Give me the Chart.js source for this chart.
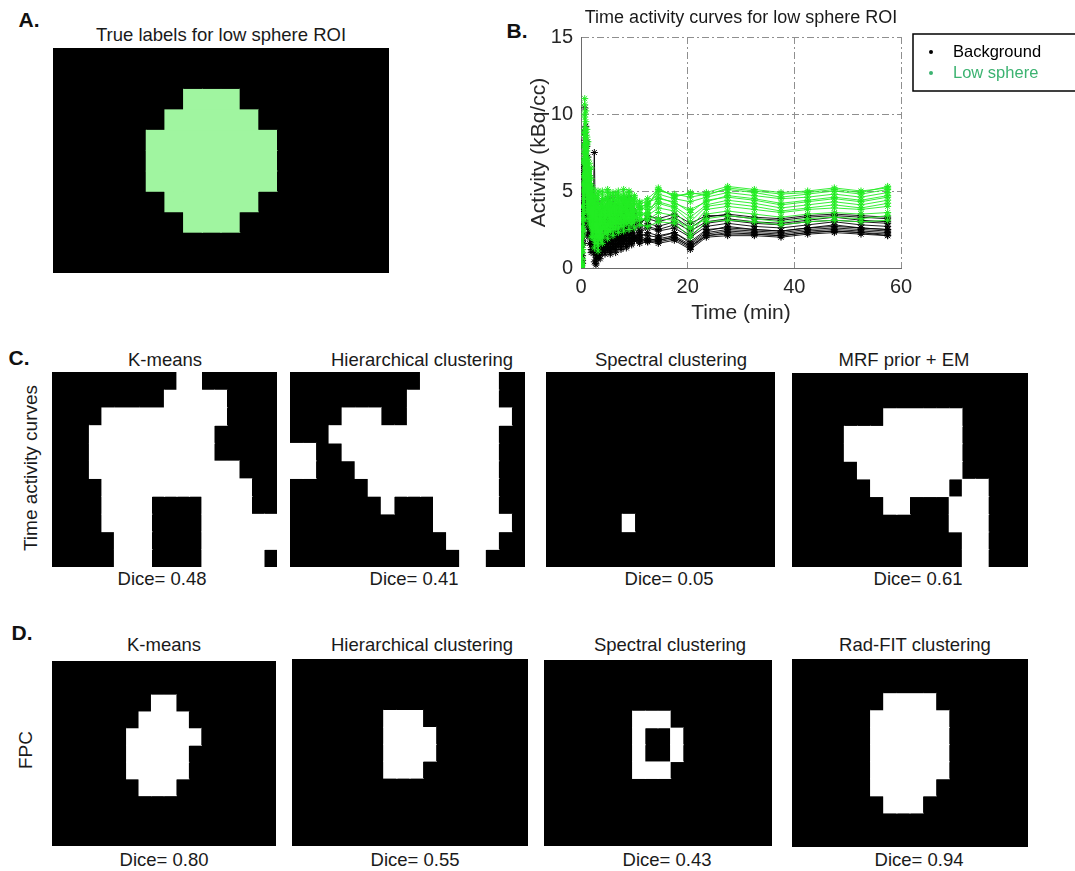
<!DOCTYPE html>
<html>
<head>
<meta charset="utf-8">
<script src="https://cdn.jsdelivr.net/npm/chart.js@4.4.1/dist/chart.umd.min.js"></script>
<style>
  body { margin: 0; width: 1075px; height: 871px; background: #fff; position: relative; overflow: hidden;
         font-family: "Liberation Sans", Arial, sans-serif; color: #1a1a1a; }
  .t { position: absolute; white-space: nowrap; transform: translate(-50%, -50%); font-size: 18.5px; line-height: 1; }
  .lab { position: absolute; white-space: nowrap; transform: translate(-50%, -50%); font-size: 21px; font-weight: bold; line-height: 1; color: #111; }
  .rot { position: absolute; white-space: nowrap; transform: translate(-50%, -50%) rotate(-90deg); font-size: 19px; line-height: 1; }
  .img { position: absolute; background: #000; }
  .img canvas, #tac { display: block; }
</style>
</head>
<body>

<script>
// ---- panel B: frame mid-times (min) and time activity curves (kBq/cc) ----
const TIME_MIN = [0.1, 0.3, 0.5, 0.7, 0.9, 1.1, 1.3, 1.6, 1.9, 2.2, 2.5, 2.8, 3.2, 3.6, 4.0, 4.5, 5.0, 5.5, 6.0, 6.5,
                  7.0, 7.5, 8.0, 8.5, 9.0, 9.5, 10.0, 11.0, 12.5, 14.5, 17.5, 20.5, 23.5, 27.5, 32.5, 37.5, 42.5, 47.5, 52.5, 57.5];

const BG_1 = [0.2, 2.5, 6.2, 10.4, 7.1, 4.0, 6.3, 3.1, 5.2, 2.0, 4.1, 1.4, 3.3, 1.2, 2.9, 1.9, 3.6, 1.6, 3.1, 2.0, 3.3, 1.8, 3.6, 2.3, 4.2, 2.4, 3.1, 2.3, 2.6, 2.4, 2.6, 2.0, 2.7, 2.9, 2.7, 2.6, 2.8, 3.0, 2.8, 2.7];
const BG_2 = [0.1, 1.2, 4.5, 8.3, 5.5, 7.9, 3.6, 4.8, 2.5, 3.9, 1.0, 2.8, 0.6, 2.2, 1.1, 2.6, 1.3, 2.5, 1.4, 2.9, 1.6, 2.4, 1.9, 3.0, 1.8, 2.7, 1.9, 2.1, 1.8, 1.9, 2.1, 1.5, 2.3, 2.5, 2.4, 2.3, 2.5, 2.6, 2.5, 2.4];
const BG_3 = [0.0, 0.8, 3.0, 5.8, 8.6, 4.2, 5.0, 2.2, 3.4, 1.8, 2.6, 0.8, 1.9, 0.9, 1.6, 1.2, 2.0, 1.0, 1.8, 1.3, 2.1, 1.4, 2.3, 1.5, 2.0, 1.7, 2.2, 1.8, 1.9, 1.8, 2.0, 1.4, 2.2, 2.4, 2.3, 2.2, 2.4, 2.5, 2.4, 2.3];
const BG_4 = [0.3, 3.5, 7.0, 6.0, 4.5, 8.2, 2.8, 6.0, 3.2, 2.6, 4.6, 2.0, 4.2, 1.5, 3.8, 2.4, 4.5, 2.0, 3.6, 2.4, 4.0, 2.6, 4.5, 2.8, 3.7, 3.0, 3.4, 2.6, 2.9, 2.7, 3.0, 2.4, 3.0, 3.2, 3.0, 2.9, 3.1, 3.3, 3.1, 3.0];
const BG_5 = [0.0, 1.8, 5.0, 7.4, 3.5, 5.8, 2.0, 3.6, 1.5, 2.9, 7.5, 0.7, 1.0, 3.0, 1.3, 2.2, 1.6, 2.8, 1.7, 2.3, 1.9, 2.7, 2.0, 2.5, 2.1, 2.6, 2.0, 2.2, 2.1, 2.0, 2.3, 1.7, 2.5, 2.6, 2.5, 2.4, 2.6, 2.8, 2.6, 2.5];
const BG_6 = [0.2, 2.0, 3.8, 9.0, 6.4, 3.0, 4.4, 1.6, 4.0, 1.2, 3.2, 0.9, 2.4, 1.0, 2.0, 1.4, 2.9, 1.2, 2.6, 1.5, 2.8, 1.6, 2.9, 1.8, 2.8, 1.9, 2.6, 2.0, 2.3, 2.1, 2.3, 1.6, 2.4, 2.7, 2.5, 2.4, 2.6, 2.7, 2.6, 2.5];
const BG_7 = [0.1, 0.5, 2.2, 4.8, 6.8, 3.4, 2.6, 4.1, 1.2, 2.0, 1.6, 0.5, 1.4, 0.8, 1.3, 1.0, 1.5, 0.9, 1.6, 1.2, 1.8, 1.3, 1.9, 1.4, 1.8, 1.6, 2.0, 1.7, 1.8, 1.7, 1.9, 1.3, 2.1, 2.2, 2.2, 2.1, 2.3, 2.4, 2.3, 2.2];
const BG_8 = [0.4, 4.2, 8.0, 5.2, 7.6, 4.6, 5.6, 2.6, 4.4, 3.0, 2.3, 3.4, 2.9, 2.0, 4.4, 2.6, 3.6, 2.8, 4.6, 2.6, 3.5, 2.9, 3.8, 3.1, 4.5, 2.8, 3.6, 3.0, 3.2, 3.0, 3.3, 2.6, 3.3, 3.5, 3.3, 3.2, 3.4, 3.5, 3.4, 3.3];
const BG_9 = [0.0, 1.5, 3.5, 6.5, 5.0, 3.8, 4.8, 2.8, 3.0, 1.5, 2.2, 0.3, 1.0, 1.6, 1.1, 1.9, 1.2, 2.1, 1.3, 1.9, 1.5, 2.0, 1.6, 2.2, 1.7, 2.1, 1.8, 1.9, 1.7, 1.8, 2.0, 1.4, 2.1, 2.3, 2.2, 2.1, 2.3, 2.4, 2.3, 2.1];
const BG_10 = [0.2, 2.8, 5.6, 7.8, 9.2, 5.4, 3.4, 5.0, 2.2, 3.5, 1.9, 2.4, 3.8, 1.3, 3.2, 1.7, 3.9, 1.9, 2.9, 2.2, 3.7, 2.1, 3.2, 2.6, 4.6, 2.3, 2.9, 2.4, 2.7, 2.5, 2.8, 2.1, 2.9, 3.1, 2.9, 2.8, 3.0, 3.1, 3.0, 2.9];
const BG_11 = [0.1, 0.3, 1.6, 3.8, 5.6, 6.6, 2.2, 3.0, 1.0, 1.5, 0.4, 0.2, 1.1, 0.6, 1.2, 0.9, 1.3, 1.1, 1.4, 1.0, 1.6, 1.2, 1.7, 1.3, 1.6, 1.5, 1.8, 1.6, 1.7, 1.6, 1.8, 1.2, 2.0, 2.1, 2.1, 2.0, 2.2, 2.3, 2.2, 2.1];
const BG_12 = [0.3, 3.8, 6.6, 8.8, 6.0, 5.0, 7.2, 3.8, 3.6, 4.2, 3.0, 2.6, 3.4, 2.4, 3.4, 3.0, 4.0, 2.4, 4.0, 2.9, 3.0, 3.1, 4.2, 2.7, 3.9, 3.2, 3.8, 2.8, 3.4, 3.2, 3.5, 2.9, 3.4, 3.4, 3.2, 3.1, 3.3, 3.4, 3.3, 3.2];

const LS_1 = [0.3, 3.0, 7.5, 11.0, 8.0, 5.5, 7.0, 4.0, 6.5, 3.0, 5.0, 2.2, 4.5, 2.5, 4.0, 3.2, 4.6, 3.0, 4.2, 3.3, 4.8, 3.5, 4.4, 3.6, 5.0, 3.4, 4.2, 3.8, 4.0, 5.2, 4.6, 4.9, 4.7, 5.2, 5.0, 4.8, 4.9, 5.1, 4.9, 5.3];
const LS_2 = [0.2, 2.0, 5.5, 9.0, 10.2, 6.0, 4.5, 6.8, 3.2, 4.8, 2.5, 4.0, 2.0, 3.6, 2.6, 3.9, 2.8, 4.2, 2.9, 4.0, 3.2, 4.5, 3.0, 4.2, 3.4, 3.9, 3.2, 3.6, 3.5, 4.6, 4.2, 3.8, 4.3, 4.7, 4.5, 4.2, 4.4, 4.6, 4.4, 4.7];
const LS_3 = [0.0, 1.5, 4.0, 7.2, 5.0, 8.5, 3.8, 5.5, 2.6, 3.8, 1.8, 3.0, 1.5, 2.8, 2.0, 3.4, 2.3, 3.2, 2.5, 3.5, 2.6, 3.2, 2.8, 3.6, 2.9, 3.2, 3.0, 3.2, 3.1, 3.6, 3.4, 2.2, 3.5, 3.7, 3.5, 3.3, 3.5, 3.6, 3.5, 3.6];
const LS_4 = [0.4, 4.0, 8.8, 7.0, 9.5, 4.8, 6.2, 3.6, 5.4, 2.8, 4.4, 3.0, 5.0, 2.7, 4.4, 3.0, 5.1, 3.2, 4.0, 3.6, 4.6, 3.4, 5.1, 3.5, 4.4, 3.8, 4.6, 3.9, 4.2, 4.8, 4.5, 4.3, 4.6, 4.9, 4.7, 4.5, 4.6, 4.8, 4.6, 4.9];
const LS_5 = [0.1, 1.0, 3.2, 6.0, 7.8, 4.2, 5.2, 2.8, 4.2, 2.0, 3.4, 1.6, 2.8, 1.8, 3.0, 2.2, 3.0, 2.4, 3.3, 2.6, 3.6, 2.7, 3.3, 2.9, 3.5, 3.0, 3.4, 3.1, 3.3, 3.2, 3.1, 2.6, 3.2, 3.4, 3.2, 3.0, 3.2, 3.3, 3.2, 3.4];
const LS_6 = [0.2, 2.5, 6.8, 10.0, 6.5, 7.2, 4.8, 6.0, 3.6, 5.2, 2.8, 4.6, 2.4, 4.2, 3.0, 4.0, 3.4, 4.8, 3.1, 4.4, 3.6, 4.0, 3.8, 4.6, 3.5, 4.0, 3.6, 3.9, 3.8, 4.3, 4.0, 3.3, 4.1, 4.4, 4.2, 3.9, 4.1, 4.3, 4.1, 4.4];
const LS_7 = [0.0, 0.6, 2.4, 4.5, 6.5, 5.2, 3.2, 4.4, 2.0, 3.2, 1.3, 2.6, 1.1, 2.4, 1.6, 2.7, 1.9, 2.8, 2.1, 2.9, 2.3, 3.0, 2.4, 3.1, 2.5, 2.9, 2.6, 2.8, 2.7, 3.0, 2.9, 2.0, 3.0, 3.1, 3.0, 2.8, 3.0, 3.1, 3.0, 3.1];
const LS_8 = [0.3, 3.5, 8.0, 9.8, 5.8, 8.0, 5.5, 4.6, 5.0, 3.8, 4.0, 3.4, 3.6, 3.2, 5.0, 3.4, 4.2, 3.6, 4.9, 3.5, 4.2, 4.0, 4.6, 3.8, 4.8, 3.6, 4.4, 4.0, 4.1, 5.0, 4.8, 4.6, 4.8, 5.1, 4.9, 4.6, 4.8, 5.0, 4.8, 5.1];
const LS_9 = [0.1, 2.2, 6.0, 8.6, 7.0, 9.0, 4.0, 5.0, 4.6, 3.4, 3.6, 2.6, 3.9, 2.2, 3.5, 2.6, 4.0, 2.7, 3.6, 3.0, 4.2, 3.0, 3.9, 3.2, 4.3, 3.1, 3.8, 3.4, 3.6, 4.2, 3.9, 3.0, 4.0, 4.2, 4.0, 3.7, 3.9, 4.1, 3.9, 4.2];
const LS_10 = [0.3, 3.2, 7.0, 10.6, 9.0, 6.6, 8.2, 4.4, 5.8, 4.0, 4.7, 3.6, 4.8, 3.0, 4.8, 3.8, 4.9, 3.8, 4.6, 4.0, 5.0, 3.8, 4.8, 4.1, 4.9, 4.0, 4.7, 4.3, 4.5, 5.1, 4.7, 4.8, 4.9, 5.3, 5.1, 4.9, 5.0, 5.2, 5.0, 5.2];
const LS_11 = [0.0, 1.2, 3.6, 5.4, 8.8, 3.6, 6.0, 3.0, 4.6, 2.4, 3.0, 2.0, 3.2, 2.0, 2.6, 2.9, 2.5, 3.7, 2.7, 3.2, 2.9, 3.6, 3.1, 3.4, 3.2, 3.6, 3.3, 3.5, 3.4, 3.9, 3.7, 2.6, 3.8, 4.0, 3.8, 3.6, 3.8, 3.9, 3.8, 4.0];
const LS_12 = [0.2, 2.7, 5.0, 7.8, 6.2, 7.6, 5.0, 6.4, 3.9, 4.4, 3.2, 4.2, 2.8, 3.9, 3.6, 4.5, 3.6, 4.4, 3.8, 4.8, 3.9, 4.6, 4.2, 4.4, 4.0, 4.5, 4.1, 4.2, 4.3, 4.5, 4.3, 3.6, 4.4, 4.6, 4.4, 4.1, 4.3, 4.5, 4.3, 4.6];

const BACKGROUND_CURVES = [BG_1, BG_2, BG_3, BG_4, BG_5, BG_6, BG_7, BG_8, BG_9, BG_10, BG_11, BG_12];
const LOW_SPHERE_CURVES = [LS_1, LS_2, LS_3, LS_4, LS_5, LS_6, LS_7, LS_8, LS_9, LS_10, LS_11, LS_12];
const LEGEND_NAMES = ["Background", "Low sphere"];
const X_TICKS = [0, 20, 40, 60];
const Y_TICKS = [0, 5, 10, 15];

// ---- label maps, 11 rows x 18 columns, 1 = ROI / cluster pixel ----
const TRUE_LABELS = [
  "000000000000000000", "000000000000000000", "000000011100000000", "000000111110000000",
  "000001111111000000", "000001111111000000", "000001111111000000", "000000111110000000",
  "000000011100000000", "000000000000000000", "000000000000000000"];
const TAC_KMEANS = [
  "000000000011000000", "000000000111110000", "000011111111110000", "000111111111100000",
  "000111111111100000", "000111111111111000", "000011111111111100", "000011110000111100",
  "000011110000111111", "000001110000111111", "000001110000111110"];
const TAC_HIER = [
  "000000000011111100", "000000000111111100", "000011100111111110", "000111111111111100",
  "110011111111111100", "110001111111111100", "000000111111111100", "000000010001111100",
  "000000000001111110", "000000000000111100", "000000000000011000"];
const TAC_SPECTRAL = [
  "000000000000000000", "000000000000000000", "000000000000000000", "000000000000000000",
  "000000000000000000", "000000000000000000", "000000000000000000", "000000000000000000",
  "000000100000000000", "000000000000000000", "000000000000000000"];
const TAC_MRF = [
  "000000000000000000", "000000000000000000", "000000011111100000", "000011111111100000",
  "000011111111100000", "000001111111100000", "000000111111011000", "000000011000111000",
  "000000000000111000", "000000000000011000", "000000000000011000"];
const FPC_KMEANS = [
  "000000000000000000", "000000000000000000", "000000001100000000", "000000011110000000",
  "000000111111000000", "000000111110000000", "000000111110000000", "000000011100000000",
  "000000000000000000", "000000000000000000", "000000000000000000"];
const FPC_HIER = [
  "000000000000000000", "000000000000000000", "000000000000000000", "000000011100000000",
  "000000011110000000", "000000011110000000", "000000011100000000", "000000000000000000",
  "000000000000000000", "000000000000000000", "000000000000000000"];
const FPC_SPECTRAL = [
  "000000000000000000", "000000000000000000", "000000000000000000", "000000011100000000",
  "000000010010000000", "000000010010000000", "000000011100000000", "000000000000000000",
  "000000000000000000", "000000000000000000", "000000000000000000"];
const FPC_RADFIT = [
  "000000000000000000", "000000000000000000", "000000011110000000", "000000111111000000",
  "000000111111000000", "000000111111000000", "000000111111000000", "000000111110000000",
  "000000011100000000", "000000000000000000", "000000000000000000"];

const TAC_TITLES = ["K-means", "Hierarchical clustering", "Spectral clustering", "MRF prior + EM"];
const TAC_DICE = [0.48, 0.41, 0.05, 0.61];
const FPC_TITLES = ["K-means", "Hierarchical clustering", "Spectral clustering", "Rad-FIT clustering"];
const FPC_DICE = [0.80, 0.55, 0.43, 0.94];

const FONT = '"Liberation Sans", Arial, sans-serif';
const ROI_GREEN = "#a0f5a0";
const CURVE_GREEN = "#22ec22";
const LEGEND_COLORS = ["#000000", "#3cb371"];

function addText(cls, txt, x, y) {
  const d = document.createElement("div");
  d.className = cls;
  d.textContent = txt;
  d.style.left = x + "px";
  d.style.top = y + "px";
  document.body.appendChild(d);
}

function drawMask(mask, onColor, box) {
  const wrap = document.createElement("div");
  wrap.className = "img";
  Object.assign(wrap.style, { left: box[0] + "px", top: box[1] + "px", width: box[2] + "px", height: box[3] + "px" });
  const cv = document.createElement("canvas");
  cv.width = box[2];
  cv.height = box[3];
  wrap.appendChild(cv);
  document.body.appendChild(wrap);

  const cols = mask[0].length;
  const labels = Array.from({ length: cols }, (_, i) => i);
  // one stacked dataset per image row; every pixel is a bar of height 1
  const datasets = mask.map((row) => ({
    data: labels.map(() => 1),
    backgroundColor: row.split("").map((c) => (c === "1" ? onColor : "#000")),
    // lit pixels overlap slightly so no hairline seams show between them
    inflateAmount: (ctx) => (row[ctx.dataIndex] === "1" ? 0.6 : 0),
    borderWidth: 0,
    barPercentage: 1,
    categoryPercentage: 1,
  }));
  new Chart(cv, {
    type: "bar",
    data: { labels, datasets },
    options: {
      responsive: false,
      animation: false,
      layout: { padding: 0 },
      plugins: { legend: { display: false }, tooltip: { enabled: false }, title: { display: false } },
      scales: {
        x: { stacked: true, display: false },
        y: { stacked: true, display: false, min: 0, max: mask.length, reverse: true },
      },
    },
  });
}

// ---- panel A ----
addText("lab", "A.", 29, 19);
addText("t", "True labels for low sphere ROI", 221, 35);
drawMask(TRUE_LABELS, ROI_GREEN, [53, 48, 336, 225]);

// ---- panel C ----
addText("lab", "C.", 19, 357);
addText("rot", "Time activity curves", 30, 468);
const tacMasks = [TAC_KMEANS, TAC_HIER, TAC_SPECTRAL, TAC_MRF];
const tacBoxes = [[52, 372, 225, 195], [290, 372, 235, 195], [546, 372, 229, 195], [792, 373, 236, 194]];
const tacTitleX = [165, 422, 671, 904];
const tacDiceX = [162, 414, 669, 918];
tacMasks.forEach((m, i) => {
  drawMask(m, "#fff", tacBoxes[i]);
  addText("t", TAC_TITLES[i], tacTitleX[i], 360);
  addText("t", "Dice= " + TAC_DICE[i].toFixed(2), tacDiceX[i], 579);
});

// ---- panel D ----
addText("lab", "D.", 22, 632);
addText("rot", "FPC", 25, 750);
const fpcMasks = [FPC_KMEANS, FPC_HIER, FPC_SPECTRAL, FPC_RADFIT];
const fpcBoxes = [[52, 661, 224, 185], [292, 659, 236, 187], [544, 660, 228, 186], [792, 659, 236, 188]];
const fpcTitleX = [164, 422, 670, 915];
const fpcDiceX = [164, 415, 667, 919];
fpcMasks.forEach((m, i) => {
  drawMask(m, "#fff", fpcBoxes[i]);
  addText("t", FPC_TITLES[i], fpcTitleX[i], 645);
  addText("t", "Dice= " + FPC_DICE[i].toFixed(2), fpcDiceX[i], 860);
});

// ---- panel B: time activity curves ----
addText("lab", "B.", 517, 30);
const cvB = document.createElement("canvas");
cvB.id = "tac";
cvB.width = 575;
cvB.height = 330;
Object.assign(cvB.style, { position: "absolute", left: "500px", top: "0px" });
document.body.appendChild(cvB);

const boxLegend = {
  id: "boxLegend",
  afterDraw(chart) {
    const { ctx, chartArea } = chart;
    const x0 = chartArea.right + 12, y0 = 34;
    ctx.save();
    ctx.strokeStyle = "#000";
    ctx.lineWidth = 1.5;
    ctx.strokeRect(x0, y0, 200, 57);
    ctx.font = "16.5px " + FONT;
    ctx.textBaseline = "middle";
    LEGEND_NAMES.forEach((name, i) => {
      const y = y0 + 18 + i * 21;
      ctx.fillStyle = LEGEND_COLORS[i];
      ctx.beginPath();
      ctx.arc(x0 + 18, y, 2, 0, Math.PI * 2);
      ctx.fill();
      ctx.fillText(name, x0 + 40, y);
    });
    ctx.restore();
  },
};

function curveSet(curve, label, color, order) {
  return {
    label,
    data: curve.map((v, k) => ({ x: TIME_MIN[k], y: v })),
    borderColor: color,
    backgroundColor: color,
    borderWidth: 0.9,
    pointStyle: "star",
    pointRadius: 3.5,
    pointBorderWidth: 1,
    pointBorderColor: color,
    tension: 0,
    order,
  };
}

const tacSets = [
  ...LOW_SPHERE_CURVES.map((c) => curveSet(c, LEGEND_NAMES[1], CURVE_GREEN, 1)),
  ...BACKGROUND_CURVES.map((c) => curveSet(c, LEGEND_NAMES[0], "#000", 2)),
];

const GRID = "#8f8f8f";
new Chart(cvB, {
  type: "line",
  data: { datasets: tacSets },
  options: {
    responsive: false,
    animation: false,
    layout: { padding: { top: 0, right: 174, bottom: 0, left: 0 } },
    plugins: {
      legend: { display: false },
      tooltip: { enabled: false },
      title: {
        display: true,
        text: "Time activity curves for low sphere ROI",
        fullSize: false,
        color: "#1a1a1a",
        font: { size: 18, family: FONT, weight: "normal" },
        padding: { top: 7, bottom: 8.4 },
      },
    },
    scales: {
      x: {
        type: "linear",
        min: 0,
        max: 60,
        afterBuildTicks: (s) => { s.ticks = X_TICKS.map((v) => ({ value: v })); },
        afterFit: (s) => { s.height = 62; },
        grid: { color: GRID, lineWidth: 1, drawTicks: false },
        border: { display: true, color: "#6a6a6a", width: 1, dash: [7, 3, 2, 3] },
        ticks: { color: "#262626", font: { size: 20, family: FONT }, padding: 7, maxRotation: 0 },
        title: { display: true, text: "Time (min)", color: "#262626", font: { size: 21, family: FONT }, padding: { top: 0, bottom: 4 } },
      },
      y: {
        min: 0,
        max: 15,
        afterBuildTicks: (s) => { s.ticks = Y_TICKS.map((v) => ({ value: v })); },
        afterFit: (s) => { s.width = 81; },
        grid: { color: GRID, lineWidth: 1, drawTicks: false },
        border: { display: true, color: "#6a6a6a", width: 1, dash: [7, 3, 2, 3] },
        ticks: { color: "#262626", font: { size: 20, family: FONT }, padding: 8 },
        title: { display: true, text: "Activity (kBq/cc)", color: "#262626", font: { size: 21, family: FONT }, padding: { top: 27, bottom: 0 } },
      },
    },
  },
  plugins: [boxLegend],
});
</script>
</body>
</html>
